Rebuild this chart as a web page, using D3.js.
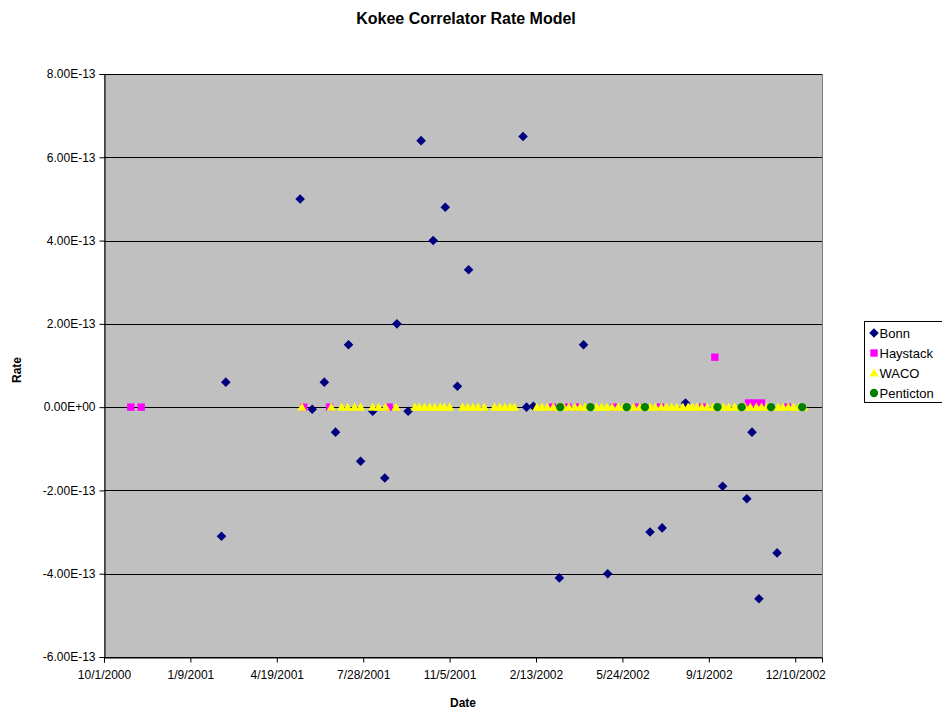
<!DOCTYPE html>
<html>
<head>
<meta charset="utf-8">
<script src="https://cdn.jsdelivr.net/npm/d3@7"></script>
<style>
  body { margin: 0; background: #fff; }
  text { font-family: "Liberation Sans", Arial, sans-serif; }
</style>
</head>
<body>
<div id="plot"></div>
<script>
// dates are Excel serial day numbers (36800 = 10/1/2000)
const xTicks = [36800, 36900, 37000, 37100, 37200, 37300, 37400, 37500, 37600];
const yTicks = [-6e-13, -4e-13, -2e-13, 0, 2e-13, 4e-13, 6e-13, 8e-13];

const bonnDates = [36936, 36941, 37027, 37041, 37055, 37068, 37083, 37097, 37111, 37125,
  37139, 37152, 37167, 37181, 37195, 37209, 37222, 37285, 37289, 37297,
  37327, 37355, 37383, 37432, 37446, 37473, 37516, 37544, 37550, 37558, 37579];
const bonnRates = [-3.1e-13, 0.6e-13, 5.0e-13, -0.05e-13, 0.6e-13, -0.6e-13, 1.5e-13, -1.3e-13, -0.1e-13, -1.7e-13,
  2.0e-13, -0.1e-13, 6.4e-13, 4.0e-13, 4.8e-13, 0.5e-13, 3.3e-13, 6.5e-13, 0, 0.02e-13,
  -4.1e-13, 1.5e-13, -4.0e-13, -3.0e-13, -2.9e-13, 0.1e-13, -1.9e-13, -2.2e-13, -0.6e-13, -4.6e-13, -3.5e-13];

const haystackDates = [36831, 36843, 37031, 37061, 37130, 37319, 37337, 37348, 37390, 37417,
  37444, 37493, 37507, 37546, 37553, 37561, 37591];
const haystackRates = [0, 0, 0, 0, 0, 0, 0, 0, 0, 0,
  0, 0, 1.2e-13, 0.1e-13, 0.1e-13, 0.1e-13, 0];

const wacoDates = [37029, 37063, 37075, 37082, 37090, 37097, 37111, 37118, 37126, 37138,
  37160, 37165, 37171, 37177, 37183, 37189, 37194, 37200,
  37215, 37221, 37227, 37233, 37240, 37252, 37258, 37264, 37270, 37275,
  37301, 37307, 37313, 37320, 37326, 37332, 37338, 37345, 37351, 37357,
  37363, 37370, 37376, 37382, 37388, 37395, 37401, 37407, 37413, 37420,
  37426, 37432, 37438, 37445, 37451, 37457, 37463, 37470, 37476, 37481,
  37486, 37492, 37498, 37505, 37511, 37517, 37523, 37530, 37536, 37542,
  37548, 37555, 37561, 37567, 37573, 37580, 37586, 37592, 37598, 37604, 37610];
const wacoRates = wacoDates.map(() => 0);

const pentictonDates = [37328, 37363, 37405, 37426, 37510, 37538, 37572, 37608];
const pentictonRates = [0, 0, 0, 0, 0, 0, 0, 0];

const w = 942;
const h = 709;
const plot = {left: 104, top: 74, right: 822, bottom: 657};

const svg = d3.select("div#plot")
    .append("svg")
    .attr("width", w)
    .attr("height", h);

const xScale = d3.scaleLinear()
    .domain([36800, 37631])
    .range([plot.left, plot.right]);

const yScale = d3.scaleLinear()
    .domain([-6e-13, 8e-13])
    .range([plot.bottom, plot.top]);

// Excel style 8.00E-13
function sci(v) {
  if (Math.abs(v) < 1e-20) return "0.00E+00";
  const s = v.toExponential(2).toUpperCase();
  const [m, e] = s.split("E");
  const sign = e[0];
  const digits = e.slice(1).padStart(2, "0");
  return m + "E" + sign + digits;
}

function serialToDate(s) {
  const d = new Date(Date.UTC(1899, 11, 30) + s * 86400000);
  return (d.getUTCMonth() + 1) + "/" + d.getUTCDate() + "/" + d.getUTCFullYear();
}

// plot background
svg.append("rect")
    .attr("x", plot.left)
    .attr("y", plot.top)
    .attr("width", plot.right - plot.left)
    .attr("height", plot.bottom - plot.top)
    .attr("fill", "#c0c0c0")
    .attr("stroke", "#808080")
    .attr("shape-rendering", "crispEdges");

// gridlines
svg.append("g")
  .selectAll("line")
  .data(yTicks)
  .join("line")
    .attr("x1", plot.left)
    .attr("x2", plot.right)
    .attr("y1", d => Math.round(yScale(d)) + 0.5)
    .attr("y2", d => Math.round(yScale(d)) + 0.5)
    .attr("stroke", "#000")
    .attr("stroke-width", 1);

// axes
const yAxis = d3.axisLeft(yScale)
    .tickValues(yTicks)
    .tickFormat(sci)
    .tickSize(5)
    .tickPadding(4);

const xAxis = d3.axisBottom(xScale)
    .tickValues(xTicks)
    .tickFormat(serialToDate)
    .tickSize(5)
    .tickPadding(8);

const gy = svg.append("g")
    .attr("transform", `translate(${plot.left + 0.5},0)`)
    .call(yAxis);

const gx = svg.append("g")
    .attr("transform", `translate(0,${plot.bottom + 0.5})`)
    .call(xAxis);

[gx, gy].forEach(g => {
  g.select(".domain").attr("stroke", "#000");
  g.selectAll(".tick line").attr("stroke", "#000");
  g.selectAll(".tick text")
      .attr("fill", "#000")
      .style("font-size", "12px")
      .style("font-family", "'Liberation Sans', Arial, sans-serif");
});

// marker shapes
const shapes = {
  diamond: "M0,-4.8L4.8,0L0,4.8L-4.8,0Z",
  square: "M-3.7,-3.7H3.7V3.7H-3.7Z",
  triangle: "M0,-4.6L4.6,3.6H-4.6Z",
  circle: d3.symbol(d3.symbolCircle, 54)()
};

const series = [
  {name: "Bonn", dates: bonnDates, rates: bonnRates, shape: "diamond", color: "#000080"},
  {name: "Haystack", dates: haystackDates, rates: haystackRates, shape: "square", color: "#ff00ff"},
  {name: "WACO", dates: wacoDates, rates: wacoRates, shape: "triangle", color: "#ffff00"},
  {name: "Penticton", dates: pentictonDates, rates: pentictonRates, shape: "circle", color: "#008000"}
];

series.forEach(s => {
  svg.append("g")
    .selectAll("path")
    .data(s.dates.map((d, i) => ({date: d, rate: s.rates[i]})))
    .join("path")
      .attr("d", shapes[s.shape])
      .attr("transform", d => `translate(${xScale(d.date)},${yScale(d.rate)})`)
      .attr("fill", s.color);
});

// titles
svg.append("text")
    .attr("x", 466)
    .attr("y", 24)
    .attr("text-anchor", "middle")
    .style("font-size", "16px")
    .style("font-weight", "bold")
    .text("Kokee Correlator Rate Model");

svg.append("text")
    .attr("x", 463)
    .attr("y", 707)
    .attr("text-anchor", "middle")
    .style("font-size", "12px")
    .style("font-weight", "bold")
    .text("Date");

svg.append("text")
    .attr("transform", "translate(21,370) rotate(-90)")
    .attr("text-anchor", "middle")
    .style("font-size", "12px")
    .style("font-weight", "bold")
    .text("Rate");

// legend
const legend = svg.append("g")
    .attr("transform", "translate(864.5,321.5)");

legend.append("rect")
    .attr("width", 100)
    .attr("height", 81)
    .attr("fill", "#fff")
    .attr("stroke", "#000");

const items = legend.selectAll("g.item")
    .data(series)
    .join("g")
    .attr("class", "item")
    .attr("transform", (d, i) => `translate(0,${11.5 + i * 20})`);

items.append("path")
    .attr("d", d => shapes[d.shape])
    .attr("transform", "translate(9.5,0)")
    .attr("fill", d => d.color);

items.append("text")
    .attr("x", 15)
    .attr("dy", "0.35em")
    .style("font-size", "13px")
    .text(d => d.name);
</script>
</body>
</html>
